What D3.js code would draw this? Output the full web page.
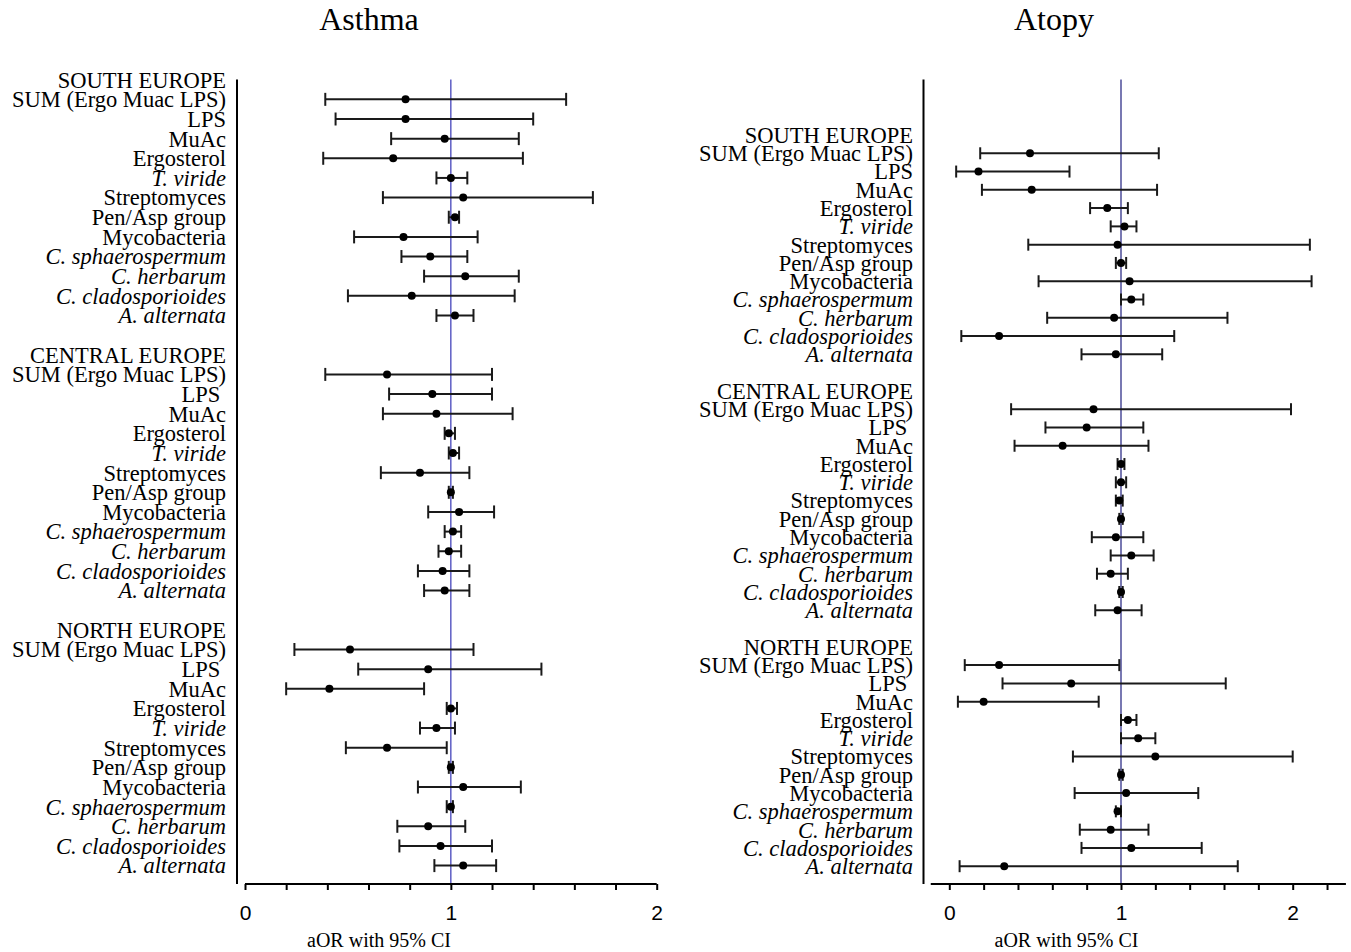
<!DOCTYPE html>
<html>
<head>
<meta charset="utf-8">
<script src="https://cdn.jsdelivr.net/npm/d3@7"></script>
<style>
  body { margin: 0; background: #fff; }
  svg text { white-space: pre; }
</style>
</head>
<body>
<svg id="chart" width="1351" height="952"></svg>
<script>
// row labels (same order in every region block)
const regionNames = ['SOUTH EUROPE', 'CENTRAL EUROPE', 'NORTH EUROPE'];
const exposureLabels = ['SUM (Ergo Muac LPS)', 'LPS', 'MuAc', 'Ergosterol', 'T. viride', 'Streptomyces',
  'Pen/Asp group', 'Mycobacteria', 'C. sphaerospermum', 'C. herbarum', 'C. cladosporioides', 'A. alternata'];
const italicLabels = ['T. viride', 'C. sphaerospermum', 'C. herbarum', 'C. cladosporioides', 'A. alternata'];
const xTicks = [0, 1, 2];

// Asthma - aOR and 95% CI
const asthmaSouthOR   = [0.78, 0.78, 0.97, 0.72, 1.00, 1.06, 1.02, 0.77, 0.90, 1.07, 0.81, 1.02];
const asthmaSouthLow  = [0.39, 0.44, 0.71, 0.38, 0.93, 0.67, 0.99, 0.53, 0.76, 0.87, 0.50, 0.93];
const asthmaSouthHigh = [1.56, 1.40, 1.33, 1.35, 1.08, 1.69, 1.04, 1.13, 1.08, 1.33, 1.31, 1.11];

const asthmaCentralOR   = [0.69, 0.91, 0.93, 0.99, 1.01, 0.85, 1.00, 1.04, 1.01, 0.99, 0.96, 0.97];
const asthmaCentralLow  = [0.39, 0.70, 0.67, 0.97, 0.99, 0.66, 0.99, 0.89, 0.97, 0.94, 0.84, 0.87];
const asthmaCentralHigh = [1.20, 1.20, 1.30, 1.02, 1.04, 1.09, 1.01, 1.21, 1.05, 1.05, 1.09, 1.09];

const asthmaNorthOR   = [0.51, 0.89, 0.41, 1.00, 0.93, 0.69, 1.00, 1.06, 1.00, 0.89, 0.95, 1.06];
const asthmaNorthLow  = [0.24, 0.55, 0.20, 0.98, 0.85, 0.49, 0.99, 0.84, 0.98, 0.74, 0.75, 0.92];
const asthmaNorthHigh = [1.11, 1.44, 0.87, 1.03, 1.02, 0.98, 1.01, 1.34, 1.01, 1.07, 1.20, 1.22];

// Atopy - aOR and 95% CI
const atopySouthOR   = [0.47, 0.17, 0.48, 0.92, 1.02, 0.98, 1.00, 1.05, 1.06, 0.96, 0.29, 0.97];
const atopySouthLow  = [0.18, 0.04, 0.19, 0.82, 0.94, 0.46, 0.97, 0.52, 1.00, 0.57, 0.07, 0.77];
const atopySouthHigh = [1.22, 0.70, 1.21, 1.04, 1.09, 2.10, 1.03, 2.11, 1.13, 1.62, 1.31, 1.24];

const atopyCentralOR   = [0.84, 0.80, 0.66, 1.00, 1.00, 0.99, 1.00, 0.97, 1.06, 0.94, 1.00, 0.98];
const atopyCentralLow  = [0.36, 0.56, 0.38, 0.98, 0.97, 0.97, 0.99, 0.83, 0.94, 0.86, 0.99, 0.85];
const atopyCentralHigh = [1.99, 1.13, 1.16, 1.02, 1.03, 1.01, 1.01, 1.13, 1.19, 1.04, 1.01, 1.12];

const atopyNorthOR   = [0.29, 0.71, 0.20, 1.04, 1.10, 1.20, 1.00, 1.03, 0.98, 0.94, 1.06, 0.32];
const atopyNorthLow  = [0.09, 0.31, 0.05, 1.00, 1.00, 0.72, 0.99, 0.73, 0.97, 0.76, 0.77, 0.06];
const atopyNorthHigh = [0.99, 1.61, 0.87, 1.09, 1.20, 2.00, 1.01, 1.45, 1.00, 1.16, 1.47, 1.68];

const asthmaRegions = [
  {or: asthmaSouthOR, low: asthmaSouthLow, high: asthmaSouthHigh},
  {or: asthmaCentralOR, low: asthmaCentralLow, high: asthmaCentralHigh},
  {or: asthmaNorthOR, low: asthmaNorthLow, high: asthmaNorthHigh}
];
const atopyRegions = [
  {or: atopySouthOR, low: atopySouthLow, high: atopySouthHigh},
  {or: atopyCentralOR, low: atopyCentralLow, high: atopyCentralHigh},
  {or: atopyNorthOR, low: atopyNorthLow, high: atopyNorthHigh}
];

const svg = d3.select('#chart');
const serif = '"Liberation Serif", "Times New Roman", serif';
const sans = '"Liberation Sans", Arial, sans-serif';

const panels = [
  {
    title: 'Asthma', titleX: 369, axisTitleX: 379, regions: asthmaRegions,
    xRange: [245, 656.7], yRange: [79.7, 865.6], labelX: 226, yAxisX: 237,
    axisExtent: [0, 2], minorMax: 2, refColor: '#3535b5', refWidth: 1.2, cap: 6.5
  },
  {
    title: 'Atopy', titleX: 1054, axisTitleX: 1066.5, regions: atopyRegions,
    xRange: [949.3, 1292.7], yRange: [135, 866.2], labelX: 913, yAxisX: 923.5,
    axisExtent: [-0.108, 2.31], minorMax: 2.2, refColor: '#6a6aaa', refWidth: 1.8, cap: 6
  }
];

const axisY = 884;
const topY = 79.5;

panels.forEach(function(p) {
  const x = d3.scaleLinear().domain([0, 2]).range(p.xRange);
  const y = d3.scaleLinear().domain([0, 40]).range(p.yRange);
  const g = svg.append('g');

  // title
  g.append('text')
    .attr('x', p.titleX)
    .attr('y', 29.5)
    .attr('text-anchor', 'middle')
    .style('font-family', serif)
    .style('font-size', '32px')
    .text(p.title);

  // reference line at aOR = 1
  g.append('line')
    .attr('x1', x(1)).attr('x2', x(1))
    .attr('y1', topY).attr('y2', axisY)
    .attr('stroke', p.refColor)
    .attr('stroke-width', p.refWidth);

  // left vertical axis line
  g.append('line')
    .attr('x1', p.yAxisX).attr('x2', p.yAxisX)
    .attr('y1', topY).attr('y2', axisY)
    .attr('stroke', '#000')
    .attr('stroke-width', 2);

  // bottom axis
  const minorTicks = d3.range(0, p.minorMax + 0.001, 0.2).map(v => Math.round(v * 10) / 10);
  const xAxis = d3.axisBottom(x)
    .tickValues(minorTicks)
    .tickSize(6)
    .tickSizeOuter(0)
    .tickPadding(15)
    .tickFormat(d => xTicks.indexOf(d) >= 0 ? d : '');
  const ax = g.append('g')
    .attr('transform', `translate(0,${axisY})`)
    .call(xAxis);
  ax.select('.domain').remove();
  ax.append('line')
    .attr('x1', x(p.axisExtent[0])).attr('x2', x(p.axisExtent[1]))
    .attr('y1', 0).attr('y2', 0)
    .attr('stroke', '#000')
    .attr('stroke-width', 2);
  ax.selectAll('.tick line').attr('stroke', '#000').attr('stroke-width', 2);
  ax.selectAll('.tick text')
    .style('font-family', sans)
    .style('font-size', '21px')
    .attr('fill', '#000');

  g.append('text')
    .attr('x', p.axisTitleX)
    .attr('y', 947)
    .attr('text-anchor', 'middle')
    .style('font-family', serif)
    .style('font-size', '20px')
    .text('aOR with 95% CI');

  // rows
  p.regions.forEach(function(reg, r) {
    const base = r * 14;
    g.append('text')
      .attr('x', p.labelX)
      .attr('y', y(base))
      .attr('dy', '0.35em')
      .attr('text-anchor', 'end')
      .style('font-family', serif)
      .style('font-size', '22.5px')
      .text(regionNames[r]);

    exposureLabels.forEach(function(lab, j) {
      const yy = y(base + 1 + j);
      const txt = (lab === 'LPS' && r > 0) ? 'LPS ' : lab;
      g.append('text')
        .attr('x', p.labelX)
        .attr('y', yy)
        .attr('dy', '0.35em')
        .attr('text-anchor', 'end')
        .style('font-family', serif)
        .style('font-size', '22.5px')
        .style('font-style', italicLabels.indexOf(lab) >= 0 ? 'italic' : 'normal')
        .text(txt);

      const lo = x(reg.low[j]);
      const hi = x(reg.high[j]);
      g.append('line')
        .attr('x1', lo).attr('x2', hi)
        .attr('y1', yy).attr('y2', yy)
        .attr('stroke', '#1a1a1a').attr('stroke-width', 2);
      [lo, hi].forEach(function(cx) {
        g.append('line')
          .attr('x1', cx).attr('x2', cx)
          .attr('y1', yy - p.cap).attr('y2', yy + p.cap)
          .attr('stroke', '#1a1a1a').attr('stroke-width', 2);
      });
      g.append('circle')
        .attr('cx', x(reg.or[j]))
        .attr('cy', yy)
        .attr('r', 4)
        .attr('fill', '#000');
    });
  });
});
</script>
</body>
</html>
